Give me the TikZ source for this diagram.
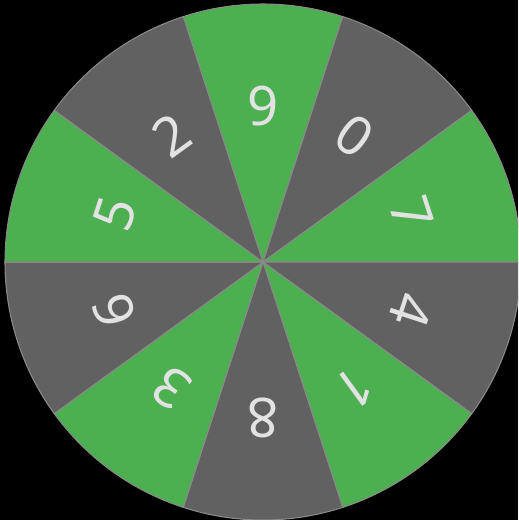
\documentclass[tikz,border=0pt]{standalone}
\usepackage{fontspec}
\usepackage{tikz}
\newfontfamily\wheelfont{Noto Sans}
\definecolor{wheelgreen}{RGB}{76,175,80}
\definecolor{wheelgray}{RGB}{97,97,97}
\definecolor{rimgray}{RGB}{138,138,138}
\definecolor{digitwhite}{RGB}{226,226,226}

\begin{document}
\begin{tikzpicture}[x=0.02cm, y=0.02cm,
    wedge/.style={draw=rimgray, line width=0.6pt},
    digit/.style={text=digitwhite, font=\wheelfont\fontsize{31}{32}\selectfont, inner sep=0pt},
]
    % Black backdrop, cut off at right and bottom like the original
    \fill[black] (-263,-258) rectangle (255,262);
    \clip (-263,-258) rectangle (255,262);
    % Ten wedges clockwise from the top, green and gray in turn
    \foreach \d [count=\i from 0] in {9,0,7,4,1,8,3,6,5,2} {
        \pgfmathsetmacro{\angle}{90 - \i * 36}
        \ifodd\i \def\wcol{wheelgray}\else \def\wcol{wheelgreen}\fi
        \filldraw[wedge, fill=\wcol] (0,0) -- (\angle-18:258)
            arc[start angle=\angle-18, end angle=\angle+18, radius=258] -- cycle;
        \node[digit, rotate=\angle-90] (d\d) at (\angle:156) {\d};
    }
\end{tikzpicture}
\end{document}
